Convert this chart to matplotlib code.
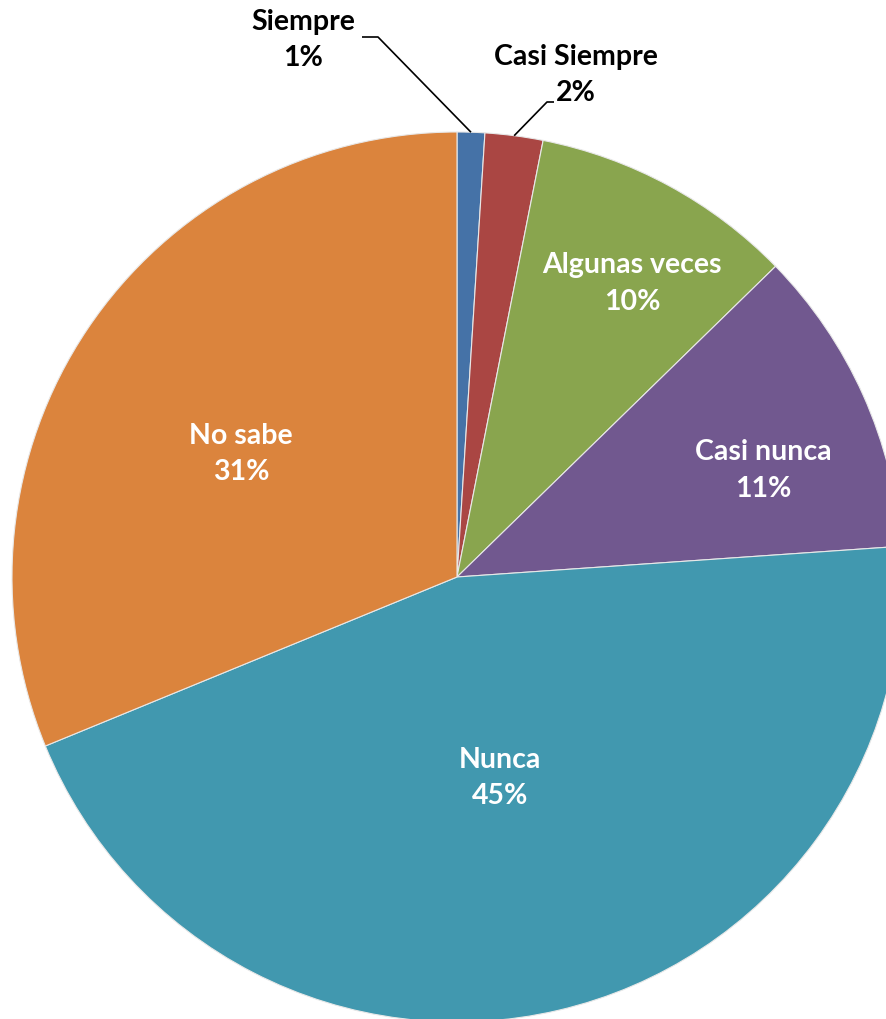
import numpy as np
import matplotlib
matplotlib.use("Agg")
import matplotlib.pyplot as plt

categories = ["Siempre", "Casi Siempre", "Algunas veces", "Casi nunca", "Nunca", "No sabe"]
values = [1.0, 2.1, 9.6, 11.2, 44.9, 31.2]
colors = ["#4572A7", "#AA4643", "#89A54E", "#71588F", "#4198AF", "#DB843D"]

W, H = 887, 1020
fig = plt.figure(figsize=(W / 100, H / 100), dpi=100)
ax = fig.add_axes([0, 0, 1, 1])

cx, cy, R = 457, H - 578, 445
wedges, _ = ax.pie(values, colors=colors, startangle=90, counterclock=False,
                   center=(cx, cy), radius=R, frame=True,
                   wedgeprops=dict(edgecolor="#e8e8e8", linewidth=0.8))
ax.set_xlim(0, W)
ax.set_ylim(0, H)
ax.set_aspect("equal")
ax.axis("off")

font = dict(family=["Lato", "DejaVu Sans"], fontweight="bold", fontsize=20.5,
            linespacing=1.5, ha="center", va="center")

total = sum(values)
pcts = [f"{round(v / total * 100):d}%" for v in values]

# inside labels: radial fraction and angle offset (deg, ccw) relative to wedge middle
inside = {2: (0.77, -2.3), 3: (0.73, -4.8), 4: (0.46, -1.1), 5: (0.56, 4.0)}
for i, (frac, off) in inside.items():
    w = wedges[i]
    mid = np.deg2rad((w.theta1 + w.theta2) / 2 + off)
    x = cx + frac * R * np.cos(mid)
    y = cy + frac * R * np.sin(mid)
    ax.text(x, y, f"{categories[i]}\n{pcts[i]}", color="white", **font)

# outside labels with leader lines
outside = {0: ((303, H - 40), (378, H - 38), (362, H - 38)),
           1: ((576, H - 75), (547, H - 103), (554, H - 103))}
for i, (tpos, elbow, end) in outside.items():
    w = wedges[i]
    mid = np.deg2rad((w.theta1 + w.theta2) / 2)
    px = cx + R * np.cos(mid)
    py = cy + R * np.sin(mid)
    ax.plot([px, elbow[0], end[0]], [py, elbow[1], end[1]], color="black", lw=1.2,
            solid_capstyle="butt")
    ax.text(tpos[0], tpos[1], f"{categories[i]}\n{pcts[i]}", color="black", **font)

fig.savefig("out.png", dpi=100)
